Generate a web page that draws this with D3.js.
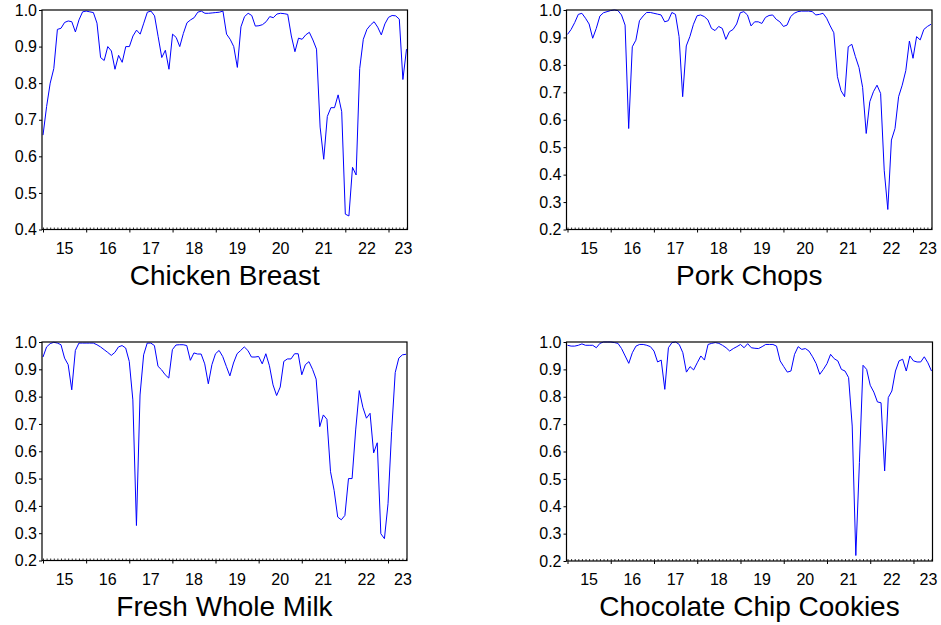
<!DOCTYPE html>
<html>
<head>
<meta charset="utf-8">
<script src="https://cdn.jsdelivr.net/npm/d3@7"></script>
<style>
  body { margin: 0; background: #fff; }
  svg text { font-family: "Liberation Sans", Arial, Helvetica, sans-serif; fill: #000; }
</style>
</head>
<body>
<svg id="chart" width="941" height="625"></svg>
<script>
// monthly observations, 2015M01 .. 2023M06
const yearLabels = ["15", "16", "17", "18", "19", "20", "21", "22", "23"];

const chickenBreast = [
  0.658, 0.736, 0.80, 0.84, 0.947, 0.95, 0.966, 0.97, 0.968, 0.94,
  0.973, 0.995, 0.997, 0.995, 0.993, 0.964, 0.87, 0.862, 0.90, 0.888,
  0.838, 0.876, 0.857, 0.90, 0.90, 0.929, 0.945, 0.934, 0.964, 0.994,
  0.997, 0.984, 0.927, 0.87, 0.89, 0.838, 0.934, 0.925, 0.90, 0.936,
  0.965, 0.973, 0.979, 0.994, 0.997, 0.991, 0.991, 0.992, 0.993, 0.994,
  0.997, 0.934, 0.92, 0.90, 0.843, 0.954, 0.982, 0.991, 0.985, 0.956,
  0.957, 0.96, 0.968, 0.982, 0.979, 0.989, 0.991, 0.99, 0.988, 0.929,
  0.886, 0.923, 0.92, 0.932, 0.939, 0.918, 0.893, 0.68, 0.592, 0.709,
  0.733, 0.733, 0.768, 0.722, 0.442, 0.437, 0.57, 0.549, 0.84, 0.92,
  0.947, 0.959, 0.968, 0.953, 0.932, 0.962, 0.98, 0.985, 0.984, 0.975,
  0.81, 0.893
];

const porkChops = [
  0.911, 0.929, 0.954, 0.984, 0.988, 0.97, 0.949, 0.897, 0.933, 0.978,
  0.99, 0.994, 0.998, 1.0, 0.998, 0.982, 0.945, 0.568, 0.866, 0.89,
  0.961, 0.978, 0.991, 0.991, 0.988, 0.985, 0.982, 0.957, 0.961, 0.991,
  0.984, 0.903, 0.684, 0.869, 0.903, 0.948, 0.979, 0.982, 0.976, 0.964,
  0.933, 0.925, 0.94, 0.933, 0.893, 0.921, 0.929, 0.949, 0.99, 0.994,
  0.982, 0.942, 0.957, 0.957, 0.951, 0.973, 0.98, 0.982, 0.966, 0.957,
  0.94, 0.945, 0.976, 0.988, 0.994, 0.996, 0.996, 0.996, 0.994, 0.982,
  0.984, 0.988, 0.97, 0.942, 0.917, 0.757, 0.706, 0.684, 0.866, 0.875,
  0.83, 0.79, 0.718, 0.55, 0.666, 0.702, 0.726, 0.696, 0.416, 0.273,
  0.526, 0.568, 0.684, 0.726, 0.779, 0.887, 0.824, 0.903, 0.891, 0.929,
  0.94, 0.948
];

const freshWholeMilk = [
  0.945, 0.982, 0.994, 0.999, 0.996, 0.99, 0.941, 0.917, 0.825, 0.969,
  0.996, 0.996, 0.996, 0.996, 0.996, 0.99, 0.982, 0.972, 0.962, 0.951,
  0.962, 0.982, 0.987, 0.978, 0.929, 0.788, 0.328, 0.806, 0.953, 0.996,
  0.996, 0.987, 0.911, 0.898, 0.88, 0.868, 0.972, 0.989, 0.99, 0.99,
  0.987, 0.933, 0.96, 0.956, 0.956, 0.92, 0.847, 0.917, 0.957, 0.969,
  0.947, 0.911, 0.876, 0.923, 0.957, 0.969, 0.982, 0.969, 0.945, 0.945,
  0.947, 0.92, 0.957, 0.913, 0.843, 0.804, 0.835, 0.929, 0.938, 0.938,
  0.957, 0.957, 0.88, 0.917, 0.928, 0.90, 0.864, 0.69, 0.733, 0.717,
  0.525, 0.457, 0.359, 0.349, 0.365, 0.50, 0.50, 0.678, 0.822, 0.761,
  0.721, 0.739, 0.594, 0.631, 0.298, 0.28, 0.408, 0.672, 0.888, 0.941,
  0.953, 0.955
];

const chocolateChipCookies = [
  0.988, 0.985, 0.985, 0.988, 0.993, 0.988, 0.988, 0.988, 0.979, 0.995,
  1.0, 1.0, 1.0, 0.998, 0.995, 0.976, 0.949, 0.922, 0.961, 0.985,
  0.991, 0.991, 0.988, 0.983, 0.967, 0.927, 0.934, 0.827, 0.979, 0.998,
  1.0, 0.991, 0.961, 0.89, 0.91, 0.898, 0.924, 0.949, 0.934, 0.991,
  0.995, 0.998, 0.995, 0.988, 0.979, 0.967, 0.976, 0.983, 0.991, 0.979,
  0.994, 0.979, 0.977, 0.976, 0.983, 0.991, 0.991, 0.991, 0.985, 0.931,
  0.91, 0.89, 0.894, 0.955, 0.983, 0.973, 0.976, 0.967, 0.946, 0.921,
  0.882, 0.90, 0.921, 0.955, 0.939, 0.931, 0.90, 0.894, 0.87, 0.693,
  0.22, 0.56, 0.915, 0.90, 0.842, 0.817, 0.781, 0.778, 0.529, 0.797,
  0.821, 0.894, 0.931, 0.937, 0.894, 0.949, 0.931, 0.927, 0.927, 0.946,
  0.924, 0.894
];

const panels = [
  { title: "Chicken Breast", values: chickenBreast, yMin: 0.4, left: 42, right: 407.5, top: 10, bottom: 229.5 },
  { title: "Pork Chops", values: porkChops, yMin: 0.2, left: 566.5, right: 932, top: 10, bottom: 229.5 },
  { title: "Fresh Whole Milk", values: freshWholeMilk, yMin: 0.2, left: 42, right: 407, top: 342, bottom: 560.5 },
  { title: "Chocolate Chip Cookies", values: chocolateChipCookies, yMin: 0.2, left: 566.5, right: 932.5, top: 342, bottom: 561 }
];

const svg = d3.select("#chart");

function drawPanel(p) {
  const n = p.values.length;
  const g = svg.append("g");

  const x = d3.scaleLinear().domain([0, n - 1]).range([p.left + 1, p.right - 1]);
  const y = d3.scaleLinear().domain([p.yMin, 1]).range([p.bottom, p.top]);

  // series line
  g.append("path")
    .datum(p.values)
    .attr("fill", "none")
    .attr("stroke", "#0000ff")
    .attr("stroke-width", 1)
    .attr("d", d3.line().x((d, i) => x(i)).y((d) => y(d)));

  // y axis
  const yTicks = d3.range(Math.round(p.yMin * 10), 11).map((v) => v / 10);
  const yAxis = g.append("g")
    .attr("transform", `translate(${p.left},0)`)
    .call(d3.axisLeft(y).tickValues(yTicks).tickFormat(d3.format(".1f")).tickSize(3).tickPadding(2));
  yAxis.select(".domain").remove();
  yAxis.selectAll("line").attr("stroke", "#000");
  yAxis.selectAll("text").attr("font-size", 16).style("font-family", null);

  // monthly minor ticks (inside)
  const minor = g.append("g")
    .attr("transform", `translate(0,${p.bottom})`)
    .call(d3.axisBottom(x).tickValues(d3.range(0, n)).tickSize(-2).tickFormat(""));
  minor.select(".domain").remove();
  minor.selectAll("line").attr("stroke", "#000").attr("stroke-width", 0.8);

  // yearly major ticks (outside)
  const major = g.append("g")
    .attr("transform", `translate(0,${p.bottom})`)
    .call(d3.axisBottom(x).tickValues(d3.range(0, n, 12)).tickSize(3).tickFormat(""));
  major.select(".domain").remove();
  major.selectAll("line").attr("stroke", "#000");

  // year labels centred in each year; the partial last year sits against the frame
  g.append("g")
    .selectAll("text")
    .data(yearLabels)
    .join("text")
    .attr("x", (d, i) => {
      const start = x(i * 12);
      if (i * 12 + 12 > n - 1) return p.right - 4;
      return (start + x(i * 12 + 12)) / 2;
    })
    .attr("y", p.bottom + 24)
    .attr("text-anchor", "middle")
    .attr("font-size", 16)
    .text((d) => d);

  // frame
  g.append("rect")
    .attr("x", p.left)
    .attr("y", p.top)
    .attr("width", p.right - p.left)
    .attr("height", p.bottom - p.top)
    .attr("fill", "none")
    .attr("stroke", "#000")
    .attr("stroke-width", 1.2);

  // title
  g.append("text")
    .attr("x", (p.left + p.right) / 2)
    .attr("y", p.bottom + 55)
    .attr("text-anchor", "middle")
    .attr("font-size", 28)
    .text(p.title);
}

panels.forEach(drawPanel);
</script>
</body>
</html>
